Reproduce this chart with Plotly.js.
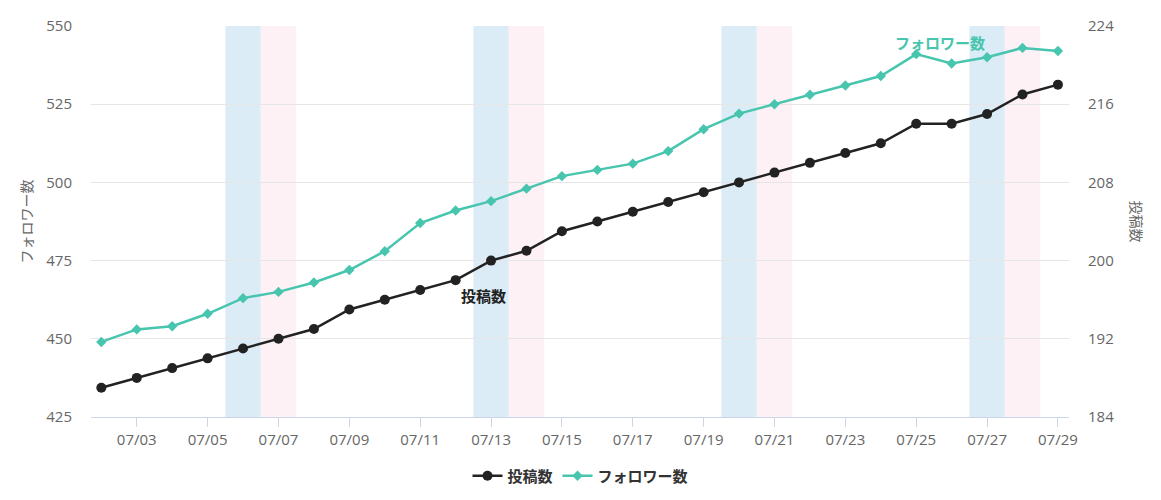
<!DOCTYPE html>
<html>
<head>
<meta charset="utf-8">
<script src="https://cdn.plot.ly/plotly-3.0.1.min.js"></script>
<style>html,body{margin:0;padding:0;background:#fff;}#chart{width:1161px;height:500px;}</style>
</head>
<body>
<div id="chart"></div>
<script>
const dates = ['2019-07-02','2019-07-03','2019-07-04','2019-07-05','2019-07-06','2019-07-07','2019-07-08','2019-07-09','2019-07-10','2019-07-11','2019-07-12','2019-07-13','2019-07-14','2019-07-15','2019-07-16','2019-07-17','2019-07-18','2019-07-19','2019-07-20','2019-07-21','2019-07-22','2019-07-23','2019-07-24','2019-07-25','2019-07-26','2019-07-27','2019-07-28','2019-07-29'];
const posts = [187,188,189,190,191,192,193,195,196,197,198,200,201,203,204,205,206,207,208,209,210,211,212,214,214,215,217,218];
const followers = [449,453,454,458,463,465,468,472,478,487,491,494,498,502,504,506,510,517,522,525,528,531,534,541,538,540,543,542];
const saturdays = ['2019-07-06','2019-07-13','2019-07-20','2019-07-27'];
const sundays = ['2019-07-07','2019-07-14','2019-07-21','2019-07-28'];

const FONT = '"Noto Sans CJK JP", "Open Sans", sans-serif';
const TICKFONT = '"Open Sans", sans-serif';
const TEAL = '#47c5ae';
const BLACK = '#222222';

function band(d, color) {
  const t = new Date(d + 'T00:00:00Z').getTime();
  const iso = ms => new Date(ms).toISOString().slice(0,19).replace('T',' ');
  return {type:'rect', xref:'x', yref:'paper', x0: iso(t - 12*3600e3), x1: iso(t + 12*3600e3),
          y0:0, y1:1, fillcolor: color, line:{width:0}, layer:'below'};
}
const shapes = saturdays.map(d => band(d, '#dbecf7')).concat(sundays.map(d => band(d, '#fef1f5')));

const traces = [
  {x: dates, y: posts, name: '投稿数', type:'scatter', mode:'lines+markers', yaxis:'y2',
   line:{color:BLACK, width:2.5}, marker:{color:BLACK, size:10, symbol:'circle'}},
  {x: dates, y: followers, name: 'フォロワー数', type:'scatter', mode:'lines+markers', yaxis:'y',
   line:{color:TEAL, width:2.5}, marker:{color:TEAL, size:8, symbol:'diamond'}}
];

const layout = {
  width:1161, height:500,
  margin:{l:91, r:92, t:26, b:83},
  paper_bgcolor:'#fff', plot_bgcolor:'#fff',
  font:{family:FONT, color:'#666', size:14},
  showlegend:true,
  legend:{orientation:'h', x:0.5, xanchor:'center', xref:'container', yref:'container', y:1-476/500, yanchor:'middle',
          font:{family:FONT, size:15, color:'#333', weight:'bold'}, traceorder:'normal'},
  xaxis:{type:'date', range:['2019-07-01 17:00','2019-07-29 07:30'], automargin:false,
         tickformat:'%m/%d', dtick:2*86400000, tick0:'2019-07-03',
         ticks:'outside', ticklen:9, tickcolor:'#ccd6eb', tickwidth:1,
         showline:true, linecolor:'#ccd6eb', linewidth:1,
         showgrid:false, zeroline:false,
         tickfont:{family:TICKFONT, size:15, color:'#666'}},
  yaxis:{range:[425,550], dtick:25, tick0:425, showgrid:true, gridcolor:'#e6e6e6', automargin:false,
         zeroline:false, showline:false, ticks:'', ticklabelstandoff:18,
         tickfont:{family:TICKFONT, size:15, color:'#666'}},
  yaxis2:{range:[184,224], dtick:8, tick0:184, overlaying:'y', side:'right', automargin:false,
          showgrid:false, zeroline:false, showline:false, ticks:'', ticklabelstandoff:18,
          tickfont:{family:TICKFONT, size:15, color:'#666'}},
  shapes: shapes,
  annotations:[
    {text:'フォロワー数', xref:'paper', yref:'paper', x:(25-91)/978, y:0.5, showarrow:false,
     textangle:-90, font:{family:FONT, size:14, color:'#666'}, xanchor:'center', yanchor:'middle'},
    {text:'投稿数', xref:'paper', yref:'paper', x:(1137-91)/978, y:0.5, showarrow:false,
     textangle:90, font:{family:FONT, size:14, color:'#666'}, xanchor:'center', yanchor:'middle'},
    {text:'<b>フォロワー数</b>', xref:'paper', yref:'paper', x:(940-91)/978, y:1-(42-26)/391, showarrow:false,
     font:{family:FONT, size:15, color:TEAL}, xanchor:'center', yanchor:'middle'},
    {text:'<b>投稿数</b>', xref:'paper', yref:'paper', x:(483-91)/978, y:1-(295-26)/391, showarrow:false,
     font:{family:FONT, size:15, color:BLACK}, xanchor:'center', yanchor:'middle'}
  ]
};

Plotly.newPlot('chart', traces, layout, {displayModeBar:false, staticPlot:true});
</script>
</body>
</html>
